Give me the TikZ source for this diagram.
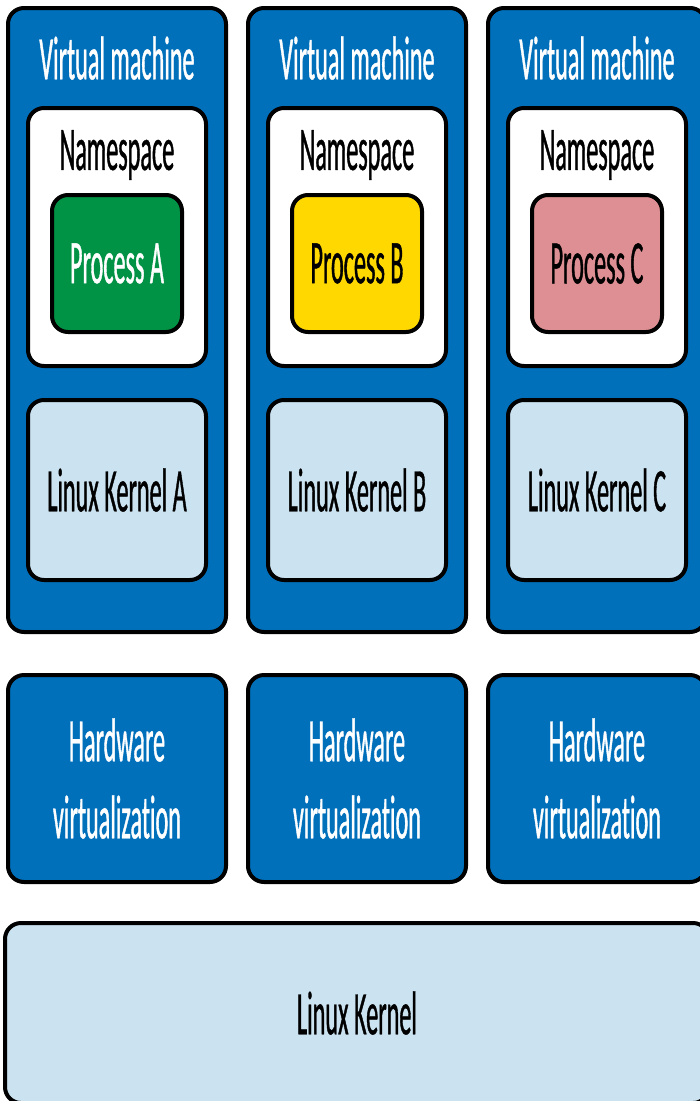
\documentclass[tikz,border=0pt]{standalone}
\usepackage{fontspec}
\setmainfont{Carlito}[FakeStretch=0.39, FakeBold=0.6, Ligatures=NoCommon]
\usetikzlibrary{positioning}

\definecolor{vmblue}{RGB}{0,112,187}
\definecolor{kernblue}{RGB}{203,226,240}
\definecolor{procA}{RGB}{0,146,69}
\definecolor{procB}{RGB}{255,216,0}
\definecolor{procC}{RGB}{222,143,148}

\tikzset{
  box/.style={draw=black, line width=4pt, rounded corners=16pt, inner sep=0pt},
  bigtext/.style={font=\fontsize{62}{77}\selectfont, align=center, inner sep=0pt}
}

\begin{document}
\begin{tikzpicture}[x=1pt, y=-1pt]

% page frame
\useasboundingbox (0,0) rectangle (700,1101);
\clip (0,0) rectangle (700,1101);

% one column per virtual machine
\foreach \l/\dx/\c/\t in {A/0/procA/white, B/240/procB/black, C/480/procC/black} {
    % virtual machine
    \node[box, fill=vmblue, minimum width=218pt, minimum height=624pt] (vm\l) at (117+\dx,320) {};
    \node[bigtext, text=white] (vmt\l) at (117+\dx,58) {Virtual machine};
    % namespace with its process
    \node[box, fill=white, minimum width=178pt, minimum height=258pt] (ns\l) at (117+\dx,237) {};
    \node[bigtext] (nst\l) at (117+\dx,155) {Namespace};
    \node[box, fill=\c, minimum width=130pt, minimum height=137pt, bigtext, text=\t] (proc\l) at (117+\dx,263.5) {Process \l};
    % guest kernel
    \node[box, fill=kernblue, minimum width=178pt, minimum height=180pt, bigtext] (lk\l) at (117+\dx,490) {Linux Kernel \l};
    % hardware virtualization
    \node[box, fill=vmblue, minimum width=218pt, minimum height=207pt, bigtext, text=white] (hw\l) at (117+\dx,778.5) {Hardware\\virtualization};
}

% host kernel
\node[box, fill=kernblue, minimum width=704pt, minimum height=180pt, bigtext] (host) at (357,1013) {Linux Kernel};

\end{tikzpicture}
\end{document}
